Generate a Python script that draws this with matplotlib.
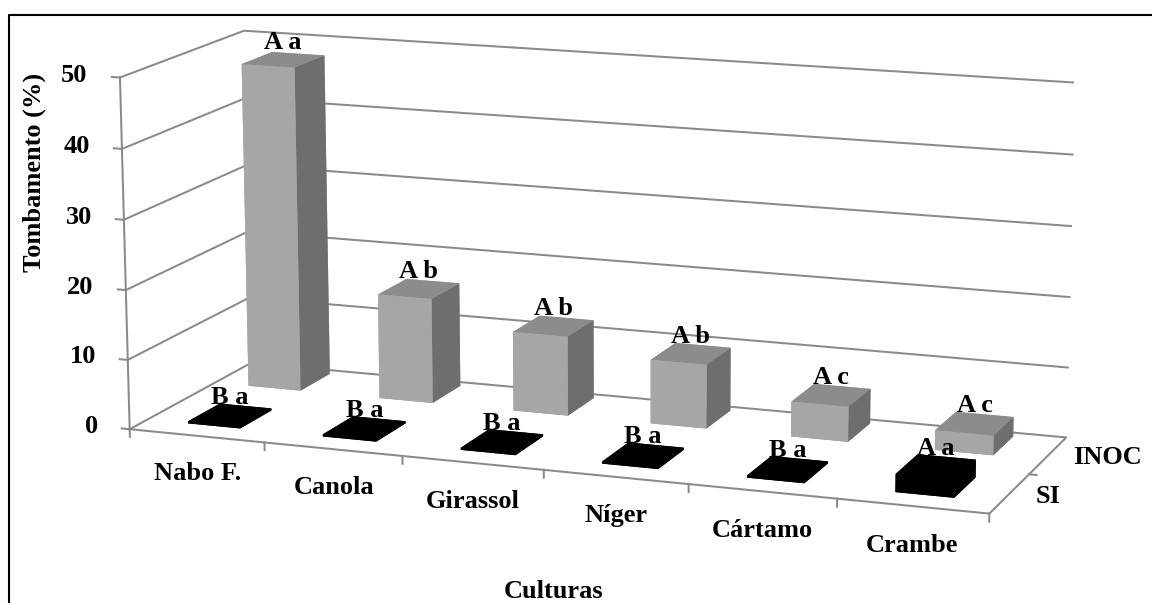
import matplotlib
matplotlib.use('Agg')
import matplotlib.pyplot as plt
from matplotlib.lines import Line2D
from mpl_toolkits.mplot3d import proj3d

# ---- data -------------------------------------------------------------
categories = ["Nabo F.", "Canola", "Girassol", "Níger", "Cártamo", "Crambe"]
series = ["SI", "INOC"]
si_values = [0.3, 0.3, 0.3, 0.3, 0.3, 2.5]
inoc_values = [47.5, 15.3, 11.5, 9.2, 5.0, 2.8]
si_letters = ["B a", "B a", "B a", "B a", "B a", "A a"]
inoc_letters = ["A a", "A b", "A b", "A b", "A c", "A c"]
z_ticks = [0, 10, 20, 30, 40, 50]

# ---- style ------------------------------------------------------------
W, H = 1152, 603
plt.rcParams['font.family'] = ['Liberation Serif', 'DejaVu Serif']
plt.rcParams['font.weight'] = 'bold'
FS = 19
GRID = '#8A8A8A'
GLW = 1.45
INOC_FACES = ['#8C8C8C', '#8C8C8C', '#A6A6A6', '#A6A6A6', '#A6A6A6', '#6E6E6E']
SI_FACES = ['#000000'] * 6

fig = plt.figure(figsize=(W / 100, H / 100), dpi=100, facecolor='white')
ax = fig.add_axes([0.0783, -0.2660, 0.8538, 1.6312], projection='3d')
ax.set_axis_off()
ax.computed_zorder = False

ncat, nser = len(categories), len(series)
zmax = z_ticks[-1]
ax.set_xlim(0, ncat)
ax.set_ylim(0, nser)
ax.set_zlim(0, zmax)
ax.view_init(elev=12.787, azim=-69.533, roll=0.159)
ax.set_proj_type('persp', focal_length=0.8073)
ax.set_box_aspect((1, 0.3236, 0.4024))
M = ax.get_proj()


def label(x, y, z, s, **kw):
    """Place flat text at the screen position of a 3D point."""
    px, py, _ = proj3d.proj_transform(x, y, z, M)
    ax.text2D(px, py, s, transform=ax.transData, fontsize=FS, zorder=7, **kw)


# ---- walls and floor --------------------------------------------------
for z in z_ticks[1:]:
    ax.plot([0, 0, ncat], [0, nser, nser], [z, z, z], color=GRID, lw=GLW, zorder=1)
ax.plot([0, ncat, ncat, 0, 0], [0, 0, nser, nser, 0], [0, 0, 0, 0, 0],
        color=GRID, lw=GLW, zorder=1)
ax.plot([0, 0], [0, 0], [0, zmax], color=GRID, lw=GLW, zorder=1)

# value-axis ticks and labels
for z in z_ticks:
    ax.plot([0, -0.06], [0, 0], [z, z], color=GRID, lw=GLW, zorder=1)
    label(-0.24, 0, z, str(z), ha='right', va='center')

# category ticks and labels
for k in range(ncat + 1):
    ax.plot([k, k], [0, 0], [0, -1.1], color=GRID, lw=GLW, zorder=1)
for k, name in enumerate(categories):
    label(k + 0.5, 0, -5.4, name, ha='center', va='center')

# series ticks and labels
for j in range(1, nser):
    ax.plot([ncat, ncat + 0.05], [j, j], [0, 0], color=GRID, lw=GLW, zorder=1)
for j, name in enumerate(series):
    label(ncat + 0.17, j + 0.5, 0, name, ha='left', va='center')

# ---- bars -------------------------------------------------------------
bar_w = [0.39, 0.40]
bar_d = 0.52
row_front = [0.28, 1.38]
row_shift = [0.0, -0.04]
rows = [(si_values, si_letters, SI_FACES, 3), (inoc_values, inoc_letters, INOC_FACES, 2)]
for j in (1, 0):
    vals, letters, faces, zo = rows[j]
    for k, v in enumerate(vals):
        xc = k + 0.5 + row_shift[j]
        ax.bar3d(xc - bar_w[j] / 2, row_front[j], 0, bar_w[j], bar_d, v, color=faces,
                 shade=False, edgecolor='none', linewidth=0, zorder=zo)
        label(xc, row_front[j] + bar_d / 2, v + 0.9, letters[k], ha='center', va='bottom')

# ---- titles and frame -------------------------------------------------
fig.text(34 / W, 1 - 172 / H, 'Tombamento (%)', rotation=90, ha='center', va='center',
         fontsize=FS)
fig.text(554 / W, 1 - 591 / H, 'Culturas', ha='center', va='center', fontsize=FS)
fig.add_artist(Line2D([8.5 / W, 8.5 / W, 1.0], [0, 1 - 14.5 / H, 1 - 14.5 / H],
                      transform=fig.transFigure, color='black', lw=1.5))

fig.savefig('out.png', dpi=100, facecolor='white')
